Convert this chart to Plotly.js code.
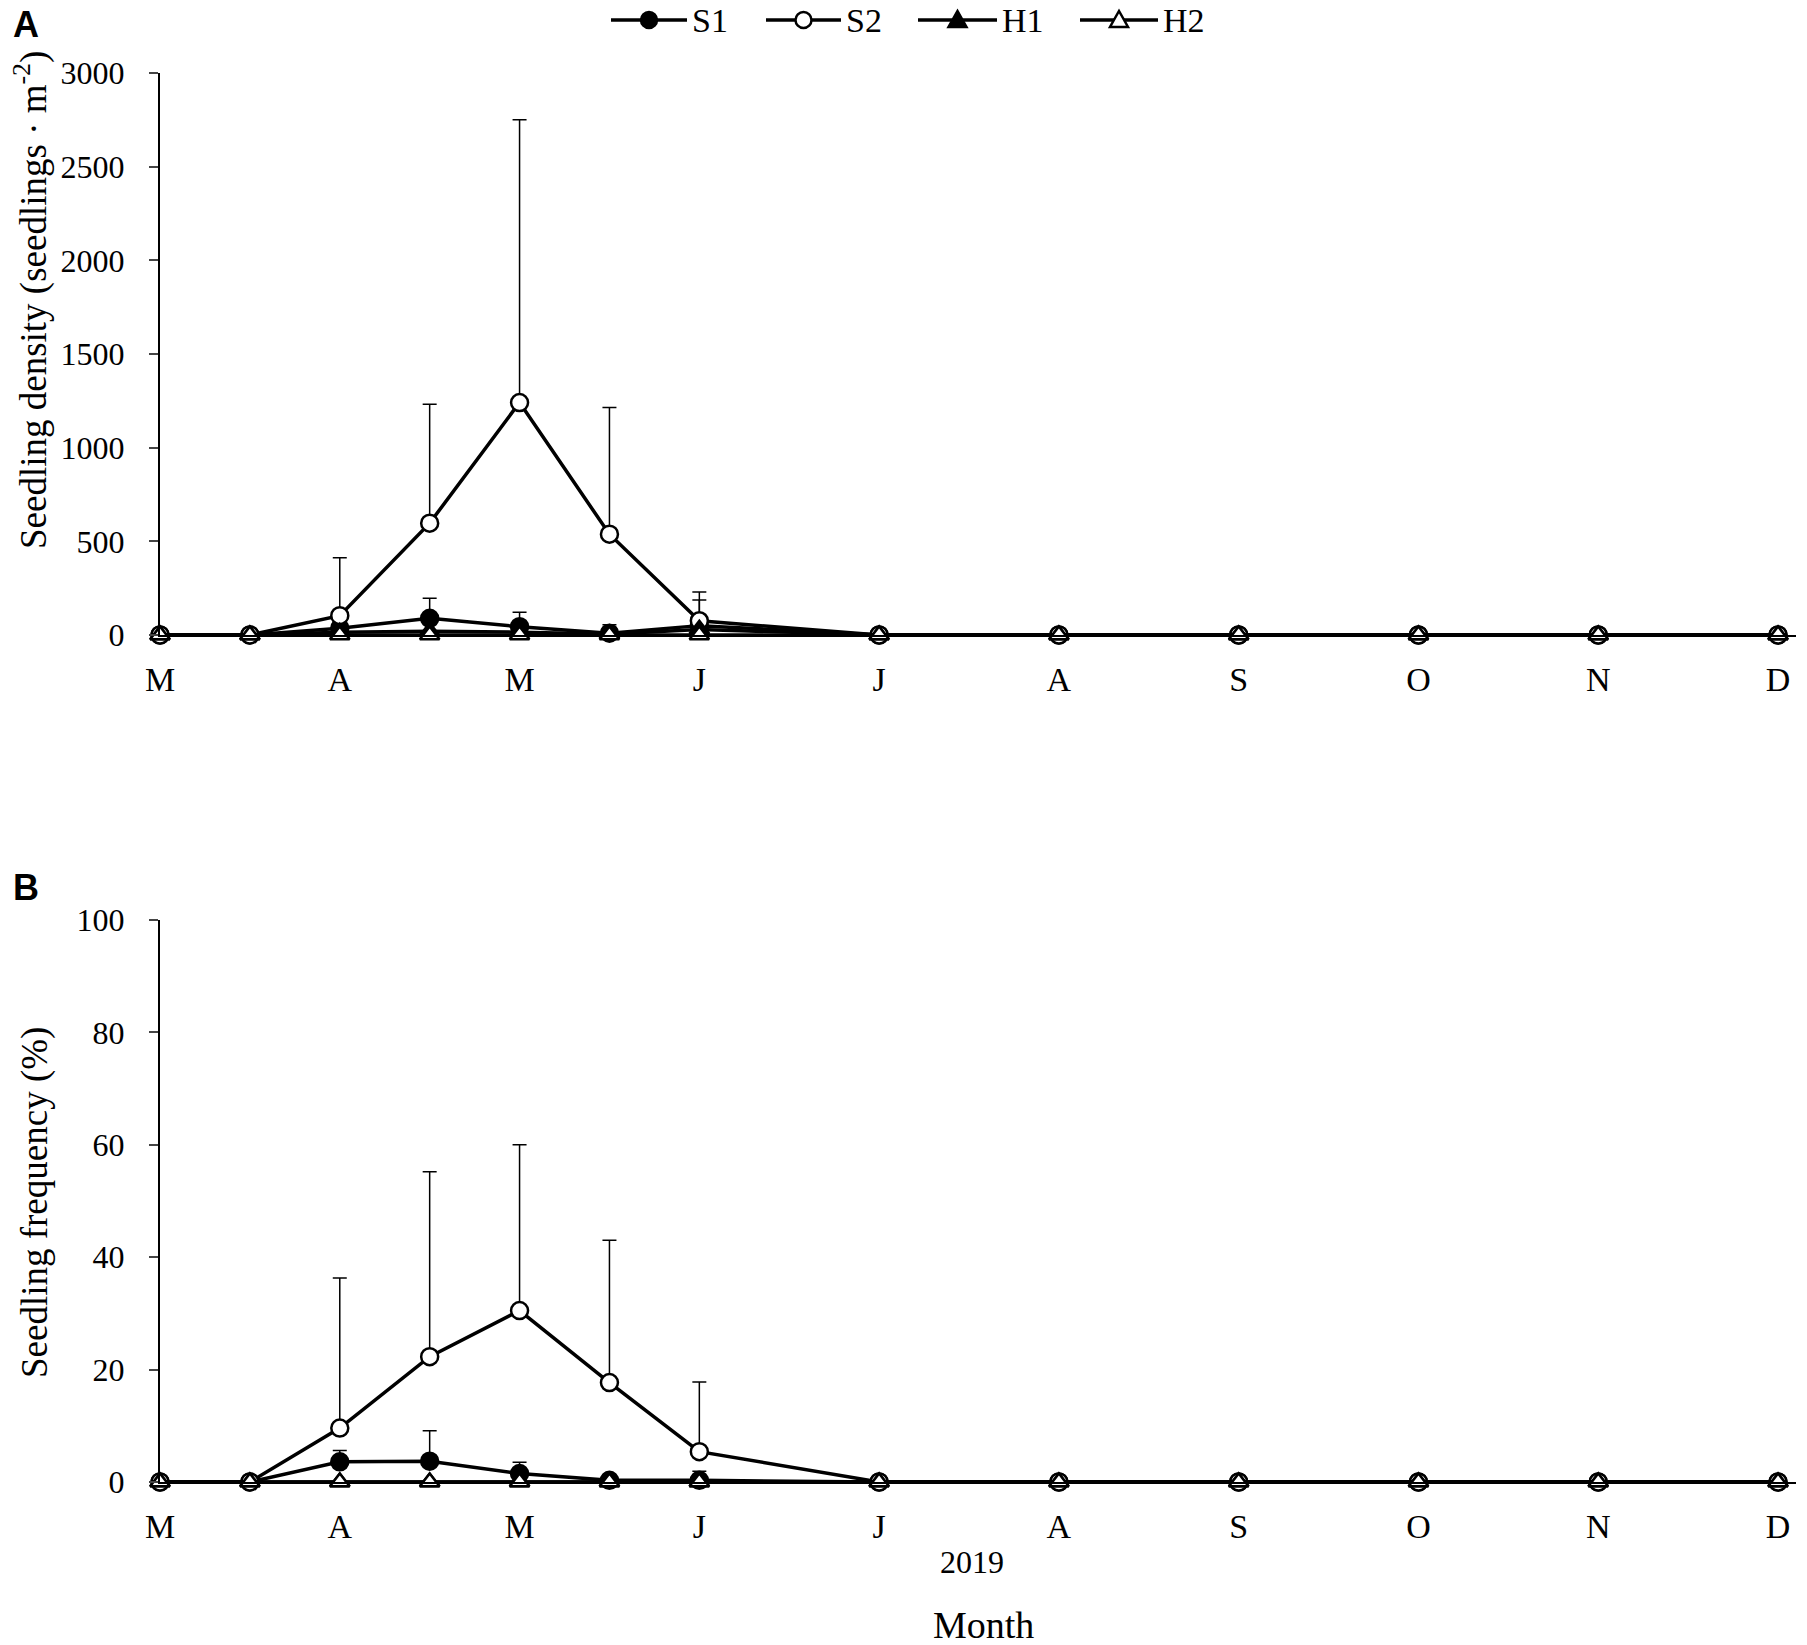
<!DOCTYPE html>
<html>
<head>
<meta charset="utf-8">
<script src="https://cdn.plot.ly/plotly-3.0.1.min.js"></script>
<style>body{margin:0;background:#fff;} #chart{width:1807px;height:1645px;}</style>
</head>
<body>
<div id="chart"></div>
<script>
// sampling points (months since March; half-month steps up to June)
var xPos = [0, 0.5, 1, 1.5, 2, 2.5, 3, 4, 5, 6, 7, 8, 9];
var monthVals = [0, 1, 2, 3, 4, 5, 6, 7, 8, 9];
var monthText = ['M', 'A', 'M', 'J', 'J', 'A', 'S', 'O', 'N', 'D'];
var seriesNames = ['S1', 'S2', 'H1', 'H2'];

//------------------------ A: seedling density
var densS1 = [0, 0, 36, 89, 44, 10, 50, 0, 0, 0, 0, 0, 0];
var densS1err = [0, 0, 40, 107, 77, 45, 137, 0, 0, 0, 0, 0, 0];
var densS2 = [0, 0, 103, 597, 1241, 538, 76, 0, 0, 0, 0, 0, 0];
var densS2err = [0, 0, 310, 635, 1510, 676, 154, 0, 0, 0, 0, 0, 0];
var densH1 = [0, 0, 15, 20, 15, 5, 30, 0, 0, 0, 0, 0, 0];
var densH2 = [0, 0, 0, 0, 0, 0, 0, 0, 0, 0, 0, 0, 0];

//------------------------ B: seedling frequency
var freqS1 = [0, 0, 3.6, 3.7, 1.5, 0.3, 0.3, 0, 0, 0, 0, 0, 0];
var freqS1err = [0, 0, 2, 5.4, 2, 0, 1.6, 0, 0, 0, 0, 0, 0];
var freqS2 = [0, 0, 9.6, 22.3, 30.5, 17.7, 5.4, 0, 0, 0, 0, 0, 0];
var freqS2err = [0, 0, 26.7, 32.9, 29.5, 25.3, 12.4, 0, 0, 0, 0, 0, 0];
var freqH1 = [0, 0, 0, 0, 0, 0, 0, 0, 0, 0, 0, 0, 0];
var freqH2 = [0, 0, 0, 0, 0, 0, 0, 0, 0, 0, 0, 0, 0];

var zeros = xPos.map(function(){ return 0; });

function series(name, y, err, symbol, fill, xa, ya){
  var t = {
    x: xPos,
    y: y,
    name: name,
    showlegend: false,
    mode: 'lines+markers',
    type: 'scatter',
    cliponaxis: false,
    xaxis: xa,
    yaxis: ya,
    line: {color: 'black', width: 3.5},
    marker: {symbol: symbol, size: 17, color: fill, line: {color: 'black', width: 2.5}}
  };
  if (err) {
    t.error_y = {type: 'data', symmetric: false, array: err, arrayminus: zeros,
                 color: 'black', thickness: 1.5, width: 7};
  }
  return t;
}

var data = [
  series('S1', densS1, densS1err, 'circle', 'black', 'x', 'y'),
  series('S2', densS2, densS2err, 'circle', 'white', 'x', 'y'),
  series('H1', densH1, null, 'triangle-up', 'black', 'x', 'y'),
  series('H2', densH2, null, 'triangle-up', 'white', 'x', 'y'),
  series('S1', freqS1, freqS1err, 'circle', 'black', 'x2', 'y2'),
  series('S2', freqS2, freqS2err, 'circle', 'white', 'x2', 'y2'),
  series('H1', freqH1, null, 'triangle-up', 'black', 'x2', 'y2'),
  series('H2', freqH2, null, 'triangle-up', 'white', 'x2', 'y2')
];

var serif = 'Liberation Serif, Times New Roman, serif';

function xAxis(anchor){
  return {
    domain: [160/1807, 1796/1807],
    range: [0, 9.1],
    anchor: anchor,
    tickvals: monthVals,
    ticktext: monthText,
    ticks: '',
    ticklabelstandoff: 13,
    showgrid: false,
    zeroline: false,
    showline: true,
    linecolor: 'black',
    linewidth: 2,
    tickfont: {family: serif, size: 34, color: 'black'}
  };
}

function yAxis(anchor, domain, range, dtick){
  return {
    domain: domain,
    range: range,
    anchor: anchor,
    dtick: dtick,
    ticks: 'outside',
    ticklen: 9,
    tickwidth: 2,
    ticklabelstandoff: 18,
    showgrid: false,
    zeroline: false,
    showline: true,
    linecolor: 'black',
    linewidth: 2,
    tickfont: {family: serif, size: 32, color: 'black'}
  };
}

function label(text, px, py, size, family, angle, xanchor){
  return {text: text, x: px/1807, y: 1 - py/1645, xref: 'paper', yref: 'paper',
          xanchor: xanchor || 'center', yanchor: 'middle', textangle: angle || 0,
          showarrow: false, font: {family: family, size: size, color: 'black'}};
}

//------------------------ legend key drawn by hand (longer line segments than plotly's legend)
var keyLeft = [611, 766, 918, 1080];
var keyRight = [687, 841, 997, 1158];
var keySymbol = ['circle', 'circle', 'triangle', 'triangle'];
var keyFill = ['black', 'white', 'black', 'white'];
var keyY = 1 - 20/1645;

var shapes = [];
var annotations = [
  label('<b>A</b>', 26, 25, 36, 'Liberation Sans, Arial'),
  label('<b>B</b>', 26, 887, 36, 'Liberation Sans, Arial'),
  label('Seedling density (seedlings · m<sup>-2</sup>)', 31, 300, 37, serif, -90),
  label('Seedling frequency (%)', 35, 1203, 37, serif, -90),
  label('2019', 972, 1562, 32, serif),
  label('Month', 983, 1625, 38, serif)
];
for (var i = 0; i < seriesNames.length; i++) {
  shapes.push({type: 'line', xref: 'paper', yref: 'paper',
               x0: keyLeft[i]/1807, x1: keyRight[i]/1807, y0: keyY, y1: keyY,
               line: {color: 'black', width: 3.5}});
}
for (var i = 0; i < seriesNames.length; i++) {
  var mid = (keyLeft[i] + keyRight[i]) / 2 / 1807;
  var s = {xref: 'paper', yref: 'paper', xsizemode: 'pixel', ysizemode: 'pixel',
           xanchor: mid, yanchor: keyY, fillcolor: keyFill[i],
           line: {color: 'black', width: 2.5}};
  if (keySymbol[i] === 'circle') {
    s.type = 'circle'; s.x0 = -8; s.x1 = 8; s.y0 = -8; s.y1 = 8;
  } else {
    s.type = 'path'; s.path = 'M-9,-7 L9,-7 L0,9 Z';
  }
  shapes.push(s);
  annotations.push(label(seriesNames[i], keyRight[i] + 3, 20, 34, serif, 0, 'left'));
}

var layout = {
  width: 1807,
  height: 1645,
  margin: {l: 0, r: 0, t: 0, b: 0},
  paper_bgcolor: 'white',
  plot_bgcolor: 'white',
  showlegend: false,
  xaxis: xAxis('y'),
  yaxis: yAxis('x', [1 - 635/1645, 1 - 73/1645], [0, 3000], 500),
  xaxis2: xAxis('y2'),
  yaxis2: yAxis('x2', [1 - 1482/1645, 1 - 920/1645], [0, 100], 20),
  shapes: shapes,
  annotations: annotations
};

Plotly.newPlot('chart', data, layout, {displayModeBar: false});
</script>
</body>
</html>
